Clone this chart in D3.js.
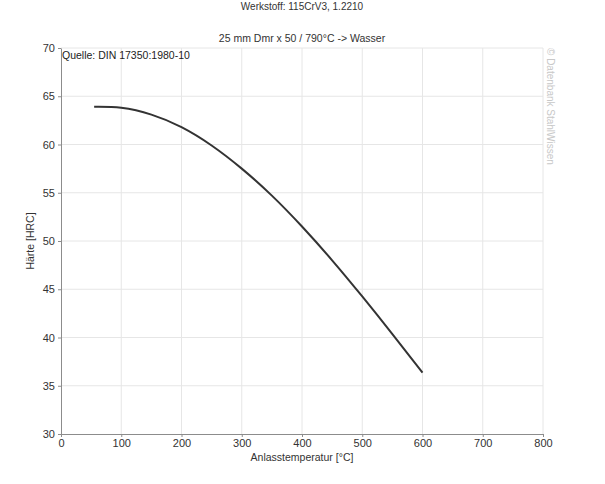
<!DOCTYPE html>
<html>
<head>
<meta charset="utf-8">
<script src="https://cdn.jsdelivr.net/npm/d3@7"></script>
<style>
  body { margin: 0; background: #fff; }
  svg text { font-family: 'Liberation Sans', Arial, sans-serif; }
</style>
</head>
<body>
<div id="chart"></div>
<script>
// Data
const temps = [55, 100, 150, 200, 250, 300, 350, 400, 450, 500, 550, 600];
const hardness = [63.9, 63.8, 63.1, 61.8, 59.9, 57.5, 54.7, 51.5, 48.0, 44.25, 40.35, 36.35];
const xTicks = [0, 100, 200, 300, 400, 500, 600, 700, 800];
const yTicks = [30, 35, 40, 45, 50, 55, 60, 65, 70];

const width = 605;
const height = 484;
const plotLeft = 61;
const plotRight = 543;
const plotTop = 48;
const plotBottom = 434;

const svg = d3.select('#chart')
  .append('svg')
  .attr('width', width)
  .attr('height', height);

const xScale = d3.scaleLinear().domain([0, 800]).range([plotLeft, plotRight]);
const yScale = d3.scaleLinear().domain([30, 70]).range([plotBottom, plotTop]);

// Grid
svg.append('g')
  .selectAll('line')
  .data(xTicks.slice(1)).enter()
  .append('line')
  .attr('x1', (d) => xScale(d))
  .attr('x2', (d) => xScale(d))
  .attr('y1', plotTop)
  .attr('y2', plotBottom)
  .attr('stroke', '#e6e6e6');

svg.append('g')
  .selectAll('line')
  .data(yTicks.slice(1)).enter()
  .append('line')
  .attr('x1', plotLeft)
  .attr('x2', plotRight)
  .attr('y1', (d) => yScale(d))
  .attr('y2', (d) => yScale(d))
  .attr('stroke', '#e6e6e6');

// Axes
const xAxis = d3.axisBottom(xScale).tickValues(xTicks).tickSize(3).tickSizeOuter(0).tickPadding(2);
const yAxis = d3.axisLeft(yScale).tickValues(yTicks).tickSize(3).tickSizeOuter(0).tickPadding(3);

const gx = svg.append('g').attr('transform', `translate(0, ${plotBottom})`).call(xAxis);
const gy = svg.append('g').attr('transform', `translate(${plotLeft}, 0)`).call(yAxis);

[gx, gy].forEach((g) => {
  g.select('.domain').attr('stroke', '#8c8c8c');
  g.selectAll('.tick line').attr('stroke', '#8c8c8c');
  g.selectAll('.tick text')
    .attr('fill', '#333')
    .style('font-size', '11px');
});

// Titles
svg.append('text')
  .attr('x', 302)
  .attr('y', 10)
  .attr('text-anchor', 'middle')
  .attr('fill', '#333')
  .style('font-size', '10px')
  .text('Werkstoff: 115CrV3, 1.2210');

svg.append('text')
  .attr('x', 302)
  .attr('y', 42)
  .attr('text-anchor', 'middle')
  .attr('fill', '#333')
  .style('font-size', '10.5px')
  .text('25 mm Dmr x 50 / 790°C -> Wasser');

svg.append('text')
  .attr('x', 62)
  .attr('y', 59)
  .attr('fill', '#222')
  .style('font-size', '10.5px')
  .text('Quelle: DIN 17350:1980-10');

// Watermark
svg.append('text')
  .attr('transform', 'translate(547, 48) rotate(90)')
  .attr('fill', '#c8c8c8')
  .style('font-size', '10px')
  .text('© Datenbank StahlWissen');

// Axis labels
svg.append('text')
  .attr('x', (plotLeft + plotRight) / 2)
  .attr('y', 461)
  .attr('text-anchor', 'middle')
  .attr('fill', '#333')
  .style('font-size', '10.5px')
  .text('Anlasstemperatur [°C]');

svg.append('text')
  .attr('transform', `translate(34, ${(plotTop + plotBottom) / 2}) rotate(-90)`)
  .attr('text-anchor', 'middle')
  .attr('fill', '#333')
  .style('font-size', '10.5px')
  .text('Härte [HRC]');

// Curve
const line = d3.line()
  .x((d, i) => xScale(temps[i]))
  .y((d) => yScale(d))
  .curve(d3.curveNatural);

svg.append('path')
  .datum(hardness)
  .attr('d', line)
  .attr('fill', 'none')
  .attr('stroke', '#333')
  .attr('stroke-width', 2);
</script>
</body>
</html>
